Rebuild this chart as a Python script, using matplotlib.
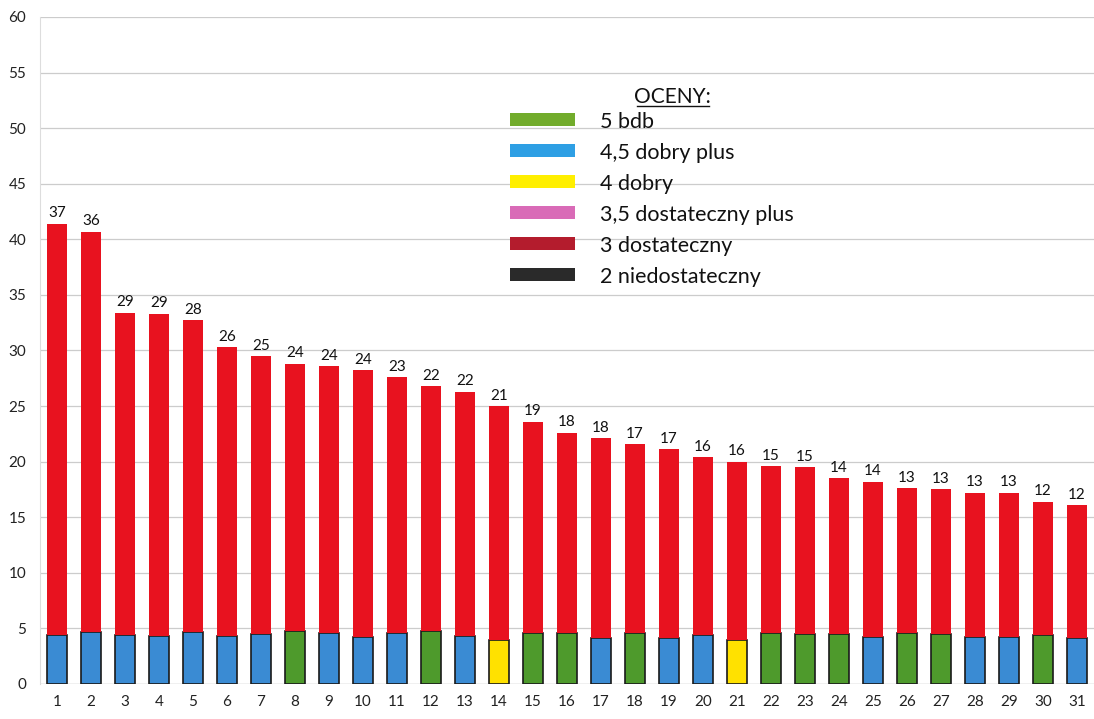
import matplotlib
matplotlib.use("Agg")
import matplotlib.pyplot as plt
from matplotlib.patches import Rectangle

plt.rcParams['font.family'] = ['Lato', 'DejaVu Sans']

# Students ranked by number of points
students = list(range(1, 32))
# Points shown above each bar (upper red segment)
points = [37, 36, 29, 29, 28, 26, 25, 24, 24, 24, 23, 22, 22, 21, 19, 18,
          18, 17, 17, 16, 16, 15, 15, 14, 14, 13, 13, 13, 13, 12, 12]
# Final grade (lower segment)
grades = [4.5, 4.5, 4.5, 4.5, 4.5, 4.5, 4.5, 5, 4.5, 4.5, 4.5, 5, 4.5, 4, 5, 5,
          4.5, 5, 4.5, 4.5, 4, 5, 5, 5, 4.5, 5, 5, 4.5, 4.5, 5, 4.5]
# Height of the grade segment
grade_height = [4.4, 4.7, 4.4, 4.3, 4.7, 4.3, 4.5, 4.8, 4.6, 4.2, 4.6, 4.8, 4.3,
                4.0, 4.6, 4.6, 4.1, 4.6, 4.1, 4.4, 4.0, 4.6, 4.5, 4.5, 4.2, 4.6,
                4.5, 4.2, 4.2, 4.4, 4.1]

legend_labels = ["5 bdb", "4,5 dobry plus", "4 dobry", "3,5 dostateczny plus",
                 "3 dostateczny", "2 niedostateczny"]
legend_colors = ["#72AC2C", "#2E9FE4", "#FFEF00", "#D96BB7", "#B41C2D", "#2A2A2A"]

bar_colors = {5: "#4E9A2C", 4.5: "#3A8BD3", 4: "#FFE100"}
red = "#E8121F"

fig = plt.figure(figsize=(10.94, 7.19), dpi=100)
ax = fig.add_axes([0.0366, 0.0487, 0.9634, 0.9277])

ax.bar(students, grade_height, width=0.6,
       color=[bar_colors[g] for g in grades], edgecolor="#1a1a1a",
       linewidth=1.2, zorder=3)
ax.bar(students, points, width=0.6, bottom=grade_height, color=red,
       linewidth=0, zorder=3)

for x, b, p in zip(students, grade_height, points):
    ax.text(x, b + p + 0.3, str(p), ha="center", va="bottom", fontsize=11,
            color="#111111", zorder=4)

ax.set_xlim(0.5, 31.5)
ax.set_ylim(0, 60)
ax.set_yticks(range(0, 61, 5))
ax.set_xticks(students)
ax.tick_params(axis="both", length=0, labelsize=11, colors="#222222")
ax.tick_params(axis="x", pad=8)
ax.tick_params(axis="y", pad=10)
ax.grid(axis="y", color="#cccccc", linewidth=0.9, zorder=0)
for side in ("top", "right", "bottom"):
    ax.spines[side].set_visible(False)
ax.spines["left"].set_color("#dddddd")
ax.axhline(0, color="#bbbbbb", linewidth=0.9, zorder=1)

# Grade legend
ax.text(0.600, 0.880, "OCENY:", transform=ax.transAxes, ha="center",
        va="center", fontsize=15, color="#111111")
ax.plot([0.566, 0.635], [0.866, 0.866], transform=ax.transAxes,
        color="#111111", linewidth=1)
row_y0 = 0.846
row_step = 0.0465
for i, (lab, col) in enumerate(zip(legend_labels, legend_colors)):
    y = row_y0 - i * row_step
    ax.add_patch(Rectangle((0.446, y - 0.010), 0.062, 0.020,
                           transform=ax.transAxes, facecolor=col,
                           edgecolor="none", zorder=5))
    ax.text(0.531, y - 0.003, lab, transform=ax.transAxes, ha="left",
            va="center", fontsize=15.5, color="#111111", zorder=5)

fig.savefig("out.png", dpi=100, facecolor="white")
